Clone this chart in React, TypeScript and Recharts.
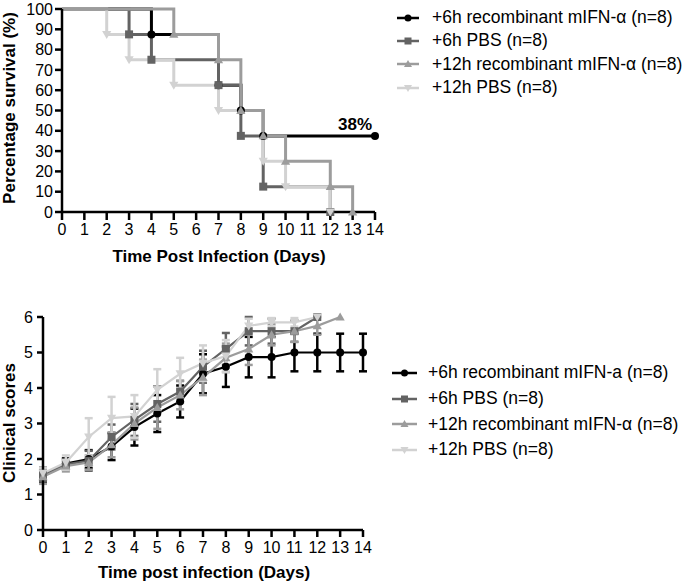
import React from "react";
import {
  ErrorBar,
  Label,
  Legend,
  Line,
  LineChart,
  XAxis,
  YAxis,
} from "recharts";

// survival (Kaplan-Meier steps): event days and % alive after each event
const kmDaysIfn6 = [0, 4, 7, 8, 9, 14];
const kmPctIfn6 = [100, 87.5, 62.5, 50, 37.5, 37.5];
const kmDaysPbs6 = [0, 3, 4, 7, 8, 9, 12];
const kmPctPbs6 = [100, 87.5, 75, 62.5, 37.5, 12.5, 0];
const kmDaysIfn12 = [0, 5, 7, 8, 9, 10, 12, 13];
const kmPctIfn12 = [100, 87.5, 75, 50, 37.5, 25, 12.5, 0];
const kmDaysPbs12 = [0, 2, 3, 5, 7, 9, 10, 12];
const kmPctPbs12 = [100, 87.5, 75, 62.5, 50, 25, 12.5, 0];

// clinical scores per day (mean and error)
const days = [0, 1, 2, 3, 4, 5, 6, 7, 8, 9, 10, 11, 12, 13, 14];
const scoreIfn6 = [1.55, 1.87, 2.0, 2.35, 2.9, 3.28, 3.62, 4.4, 4.6, 4.87, 4.87, 5.0, 5.0, 5.0, 5.0];
const sdIfn6 = [0.2, 0.15, 0.25, 0.38, 0.52, 0.52, 0.45, 0.55, 0.57, 0.57, 0.57, 0.53, 0.53, 0.53, 0.53];
const scorePbs6 = [1.55, 1.85, 1.95, 2.62, 3.1, 3.55, 3.9, 4.6, 5.1, 5.6, 5.6, 5.6, 6.0];
const sdPbs6 = [0.17, 0.15, 0.28, 0.35, 0.45, 0.5, 0.3, 0.45, 0.45, 0.4, 0.35, 0.3, 0];
const scoreIfn12 = [1.5, 1.8, 1.9, 2.4, 3.0, 3.45, 3.8, 4.3, 4.85, 5.1, 5.5, 5.6, 5.75, 6.0];
const sdIfn12 = [0.2, 0.15, 0.2, 0.35, 0.45, 0.6, 0.4, 0.5, 0.4, 0.45, 0.3, 0.3, 0.25, 0];
const scorePbs12 = [1.6, 1.9, 2.62, 3.15, 3.2, 3.95, 4.4, 4.7, 4.9, 5.75, 5.85, 5.85, 6.0];
const sdPbs12 = [0.15, 0.2, 0.53, 0.6, 0.6, 0.58, 0.45, 0.5, 0.45, 0.2, 0.12, 0.12, 0];

const dayTicks = days;
const survivalTicks = [0, 10, 20, 30, 40, 50, 60, 70, 80, 90, 100];
const scoreTicks = [0, 1, 2, 3, 4, 5, 6];

const topLegend = [
  "+6h recombinant mIFN-α (n=8)",
  "+6h PBS (n=8)",
  "+12h recombinant mIFN-α (n=8)",
  "+12h PBS (n=8)",
];
const bottomLegend = [
  "+6h recombinant mIFN-a (n=8)",
  "+6h PBS (n=8)",
  "+12h recombinant mIFN-α (n=8)",
  "+12h PBS (n=8)",
];

const COLORS = ["#000000", "#636363", "#9c9c9c", "#d2d2d2"];
const SHAPES = ["circle", "square", "triangle", "down"];
const FONT = '"Liberation Sans", Arial, sans-serif';

const toSteps = (d: number[], p: number[]) => d.map((day, i) => ({ day, pct: p[i] }));
const toScores = (s: number[], e: number[]) =>
  s.map((score, i) => ({ day: days[i], score, err: e[i] }));

const kmSeries = [
  toSteps(kmDaysIfn6, kmPctIfn6),
  toSteps(kmDaysPbs6, kmPctPbs6),
  toSteps(kmDaysIfn12, kmPctIfn12),
  toSteps(kmDaysPbs12, kmPctPbs12),
];
const scoreSeries = [
  toScores(scoreIfn6, sdIfn6),
  toScores(scorePbs6, sdPbs6),
  toScores(scoreIfn12, sdIfn12),
  toScores(scorePbs12, sdPbs12),
];

function Marker({ cx, cy, shape, color, size }: any) {
  if (cx == null || cy == null) return null;
  if (shape === "circle") return <circle cx={cx} cy={cy} r={size} fill={color} />;
  if (shape === "square")
    return <rect x={cx - size} y={cy - size} width={size * 2} height={size * 2} fill={color} />;
  const s = size * 1.15;
  const pts =
    shape === "triangle"
      ? `${cx},${cy - s} ${cx - s},${cy + s * 0.75} ${cx + s},${cy + s * 0.75}`
      : `${cx},${cy + s} ${cx - s},${cy - s * 0.75} ${cx + s},${cy - s * 0.75}`;
  return <polygon points={pts} fill={color} />;
}

function LegendBox({ labels, rowH, iconW, gap }: { labels: string[]; rowH: number; iconW: number; gap: number }) {
  return (
    <div style={{ fontFamily: FONT, fontSize: 17.5, color: "#000" }}>
      {labels.map((label, i) => (
        <div key={label} style={{ height: rowH, display: "flex", alignItems: "center", whiteSpace: "nowrap" }}>
          <svg width={iconW} height={12}>
            <line x1={0} y1={6} x2={iconW} y2={6} stroke={COLORS[i]} strokeWidth={2.5} />
            <Marker cx={iconW / 2} cy={6} shape={SHAPES[i]} color={COLORS[i]} size={3.5} />
          </svg>
          <span style={{ marginLeft: gap }}>{label}</span>
        </div>
      ))}
    </div>
  );
}

const axisStyle = { stroke: "#000", strokeWidth: 2.5 };
const tickStyle = { fontSize: 16, fill: "#000", fontFamily: FONT };
const titleStyle = { fontSize: 17, fontWeight: 700, fill: "#000", fontFamily: FONT };

function SurvivalChart() {
  const drawOrder = [0, 1, 3, 2];
  return (
    <LineChart width={683} height={275} margin={{ top: 9, right: 308, bottom: 13, left: 20 }}>
      <XAxis
        type="number"
        dataKey="day"
        domain={[0, 14]}
        ticks={dayTicks}
        interval={0}
        height={50}
        tickSize={8}
        tickMargin={4}
        axisLine={axisStyle}
        tickLine={axisStyle}
        tick={tickStyle}
        allowDuplicatedCategory={false}
      >
        <Label
          content={() => (
            <text x={219} y={262} textAnchor="middle" style={titleStyle}>
              Time Post Infection (Days)
            </text>
          )}
        />
      </XAxis>
      <YAxis
        type="number"
        domain={[0, 100]}
        ticks={survivalTicks}
        interval={0}
        width={42}
        tickSize={7}
        tickMargin={2}
        axisLine={axisStyle}
        tickLine={axisStyle}
        tick={tickStyle}
      >
        <Label
          content={() => (
            <text x={15} y={108} textAnchor="middle" transform="rotate(-90 15 108)" style={titleStyle}>
              Percentage survival (%)
            </text>
          )}
        />
      </YAxis>
      <Legend
        layout="vertical"
        align="center"
        verticalAlign="middle"
        wrapperStyle={{ left: 397, top: 6, width: 286 }}
        content={() => <LegendBox labels={topLegend} rowH={23.3} iconW={22} gap={13} />}
      />
      {drawOrder.map((i) => (
        <Line
          key={i}
          data={kmSeries[i]}
          dataKey="pct"
          type="stepAfter"
          stroke={COLORS[i]}
          strokeWidth={3}
          isAnimationActive={false}
          dot={(p: any) =>
            p.index === 0 ? (
              <g key={p.index} />
            ) : (
              <Marker key={p.index} cx={p.cx} cy={p.cy} shape={SHAPES[i]} color={COLORS[i]} size={4} />
            )
          }
          activeDot={false}
          label={
            i === 0
              ? (p: any) =>
                  p.index === kmSeries[0].length - 1 ? (
                    <text key="pct" x={p.x - 3} y={p.y - 6} textAnchor="end" style={titleStyle}>
                      {Math.round(p.value)}%
                    </text>
                  ) : (
                    <g key={p.index} />
                  )
              : undefined
          }
        />
      ))}
    </LineChart>
  );
}

function ScoreChart() {
  return (
    <LineChart width={683} height={292} margin={{ top: 27, right: 320, bottom: 7, left: 13 }}>
      <XAxis
        type="number"
        dataKey="day"
        domain={[0, 14]}
        ticks={dayTicks}
        interval={0}
        height={45}
        tickSize={7}
        tickMargin={5}
        axisLine={axisStyle}
        tickLine={axisStyle}
        tick={tickStyle}
        allowDuplicatedCategory={false}
      >
        <Label
          content={() => (
            <text x={204} y={288} textAnchor="middle" style={titleStyle}>
              Time post infection (Days)
            </text>
          )}
        />
      </XAxis>
      <YAxis
        type="number"
        domain={[0, 6]}
        ticks={scoreTicks}
        interval={0}
        width={30}
        tickSize={6}
        tickMargin={4}
        axisLine={axisStyle}
        tickLine={axisStyle}
        tick={tickStyle}
      >
        <Label
          content={() => (
            <text x={15} y={133} textAnchor="middle" transform="rotate(-90 15 133)" style={titleStyle}>
              Clinical scores
            </text>
          )}
        />
      </YAxis>
      <Legend
        layout="vertical"
        align="center"
        verticalAlign="middle"
        wrapperStyle={{ left: 392, top: 70, width: 291 }}
        content={() => <LegendBox labels={bottomLegend} rowH={25.7} iconW={25} gap={11} />}
      />
      {scoreSeries.map((data, i) => (
        <Line
          key={i}
          data={data}
          dataKey="score"
          type="linear"
          stroke={COLORS[i]}
          strokeWidth={2.2}
          isAnimationActive={false}
          dot={(p: any) => (
            <Marker key={p.index} cx={p.cx} cy={p.cy} shape={SHAPES[i]} color={COLORS[i]} size={4} />
          )}
          activeDot={false}
        >
          <ErrorBar dataKey="err" direction="y" width={4} stroke={COLORS[i]} strokeWidth={2.5} />
        </Line>
      ))}
    </LineChart>
  );
}

export default function App() {
  return (
    <div style={{ position: "absolute", left: 0, top: 0, width: 683, height: 582, background: "#fff", fontFamily: FONT }}>
      <div style={{ position: "absolute", left: 0, top: 0 }}>
        <SurvivalChart />
      </div>
      <div style={{ position: "absolute", left: 0, top: 290 }}>
        <ScoreChart />
      </div>
    </div>
  );
}
